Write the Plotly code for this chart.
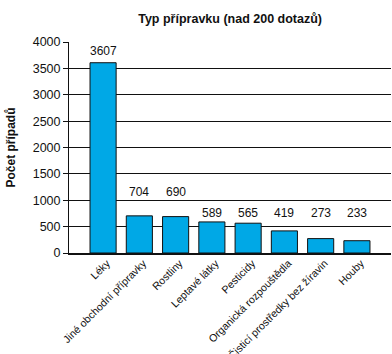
import plotly.graph_objects as go

categories = ["Léky", "Jiné obchodní přípravky", "Rostliny", "Leptavé látky",
              "Pesticidy", "Organická rozpouštědla",
              "Čisticí prostředky bez žíravin", "Houby"]
cases = [3607, 704, 690, 589, 565, 419, 273, 233]

title_text = "Typ přípravku (nad 200 dotazů)"
y_title = "Počet případů"
y_ticks = [0, 500, 1000, 1500, 2000, 2500, 3000, 3500, 4000]

FONT = "Liberation Sans, Arial, Helvetica, sans-serif"

fig = go.Figure()
fig.add_trace(go.Bar(
    x=list(range(len(categories))),
    y=cases,
    marker=dict(color="#00A8E6", line=dict(color="#111111", width=1)),
    hoverinfo="skip",
))

# value labels, placed in rows as in the reference
label_rows = [3825, 1165, 1165, 766, 766, 766, 766, 766]
for i, v in enumerate(cases):
    fig.add_annotation(x=i, y=label_rows[i], text=str(v), showarrow=False,
                       xanchor="center", yanchor="middle",
                       font=dict(family=FONT, size=12, color="#111111"))

fig.update_layout(
    width=392, height=354,
    margin=dict(l=69, r=1, t=42, b=101, autoexpand=False),
    paper_bgcolor="white", plot_bgcolor="white",
    bargap=0.28,
    showlegend=False,
    font=dict(family=FONT, size=12, color="#111111"),
    title=dict(text="<b>" + title_text + "</b>", x=0.587, xanchor="center",
               y=0.948, yanchor="middle",
               font=dict(family=FONT, size=12.5, color="#111111")),
)
fig.update_xaxes(
    range=[-0.94, 7.94],
    tickmode="array", tickvals=list(range(len(categories))), ticktext=categories,
    tickangle=-45, ticks="", showgrid=False,
    showline=True, linecolor="#111111", linewidth=2,
    tickfont=dict(family=FONT, size=10.6, color="#111111"),
    ticklabelshift=4, ticklabelstandoff=-2,
    automargin=False,
    fixedrange=True,
)
fig.update_yaxes(
    range=[0, 4000], tickmode="array", tickvals=y_ticks,
    ticks="outside", ticklen=5, tickcolor="#111111", tickwidth=1,
    showgrid=True, gridcolor="#111111", gridwidth=1,
    showline=True, linecolor="#111111", linewidth=1,
    zeroline=False,
    tickfont=dict(family=FONT, size=12.5, color="#111111"),
    title=dict(text="<b>" + y_title + "</b>", standoff=14,
               font=dict(family=FONT, size=12, color="#111111")),
    automargin=False,
    fixedrange=True,
)

fig.write_html("out.html", config={"displayModeBar": False})
